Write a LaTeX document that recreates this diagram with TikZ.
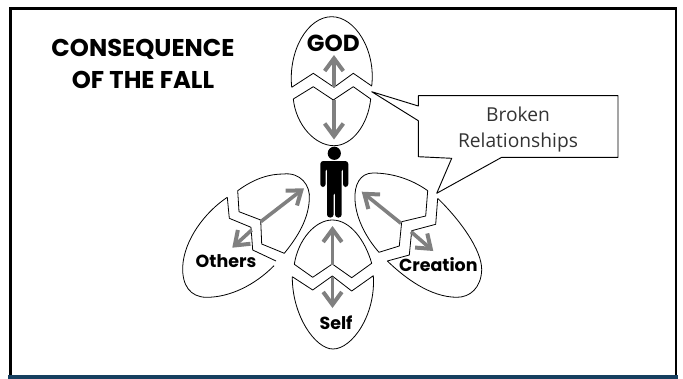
\documentclass[tikz,border=0pt]{standalone}
\usepackage{fontspec}
\setmainfont{Poppins}
\newfontfamily\calloutfont{Open Sans}
\usetikzlibrary{arrows.meta}
\definecolor{footer blue}{HTML}{163F5F}
\definecolor{callout text}{HTML}{333333}

\begin{document}
\begin{tikzpicture}[x=0.75pt,y=-0.75pt]
    \tikzset{
      frame line/.style = { black, line width = 2.1pt },
      egg/.style = { black, line width = 0.6pt, line join = round },
      link/.style = { gray, line width = 2.7pt,
          -{Straight Barb[length=9.5pt,width=14pt,line width=3pt]} },
      label/.style = { font = \bfseries\fontsize{13.1pt}{15pt}\selectfont, inner sep = 0pt },
      title/.style = { font = \fontsize{18.2pt}{24pt}\selectfont\bfseries, align = center, inner sep = 0pt },
    }
    \useasboundingbox (0,0) rectangle (683,379);

    % frame and footer
    \draw[frame line] (10.5,377) -- (10.5,8.5) -- (676,8.5) -- (676,377);
    \fill[footer blue] (8,375) rectangle (678,379);

    \node[title] (heading) at (143,64) {CONSEQUENCE\\OF THE FALL};

    % god
    \draw[egg] (291.7,87.3) -- (313.3,73.3) -- (334,87.3) -- (353.3,73.3) -- (371.7,86)
        .. controls (376,50) and (355,16.7) .. (331.7,16.7)
        .. controls (308,16.7) and (288,50) .. (291.7,87.3);
    \draw[egg] (293.3,99) -- (313.3,86.7) -- (333.3,100) -- (353.3,86.7) -- (370.7,99)
        .. controls (368,125) and (352,145.7) .. (334,145.7)
        .. controls (315,145.7) and (296,125) .. (293.3,99);

    % self
    \draw[egg] (294.3,264.3) -- (312.7,277.3) -- (332.3,264) -- (351.7,277.7) -- (371.7,263.3)
        .. controls (365,240) and (350,220) .. (332.3,220)
        .. controls (315,220) and (298,240) .. (294.3,264.3);
    \draw[egg] (292.3,276.7) -- (312.7,290) -- (332.3,276) -- (351.7,291) -- (373.3,275.7)
        .. controls (376,315) and (352,349) .. (333,349)
        .. controls (315,349) and (292,315) .. (292.3,276.7);

    % others
    \draw[egg] (237.7,190.7) -- (239,211.7) -- (260.7,220) -- (261.7,244) -- (284.3,253.3)
        .. controls (295,240) and (308,222) .. (309.3,200)
        .. controls (311,185) and (300,172) .. (283.3,174)
        .. controls (270,174) and (255,178) .. (237.7,190.7);
    \draw[egg] (227.3,197.3) -- (229.3,218.3) -- (251,227.3) -- (252.7,250) -- (276,261);
    \draw[egg] (274,265.7) .. controls (255,285) and (230,297.3) .. (206.7,297.3)
        .. controls (190,297.3) and (182,285) .. (182.7,266.7)
        .. controls (184,240) and (205,212) .. (227.3,197.3);

    % creation
    \draw[egg] (427.7,190.7) -- (425.7,216) -- (401.7,221.7) -- (399.3,246) -- (379,252.3)
        .. controls (368,240) and (356,220) .. (355,200)
        .. controls (354,185) and (360,173) .. (373,173)
        .. controls (390,173) and (410,178) .. (427.7,190.7);
    \draw[egg] (437.7,198.3) -- (435.7,224.3) -- (411.7,230.7) -- (409.3,255) -- (387.3,261)
        .. controls (405,278) and (430,297) .. (456.7,297.3)
        .. controls (470,297.3) and (481,288) .. (481.7,270)
        .. controls (482,250) and (460,220) .. (437.7,198.3);

    % arrows
    \coordinate (god crack upper) at (334,87);
    \coordinate (god crack lower) at (334,100);
    \coordinate (god tip) at (334,55);
    \coordinate (man tip) at (334,139.5);
    \coordinate (self crack upper) at (332.5,265);
    \coordinate (self crack lower) at (332.5,277);
    \coordinate (man base) at (332.5,226);
    \coordinate (self tip) at (332.5,308);
    \coordinate (others crack upper) at (260.7,221.7);
    \coordinate (others crack lower) at (251.7,230);
    \coordinate (others man) at (304,188.3);
    \coordinate (others tip) at (232.3,247.7);
    \coordinate (creation crack upper) at (401,223.3);
    \coordinate (creation crack lower) at (411,231.7);
    \coordinate (creation man) at (361.7,191.7);
    \coordinate (creation tip) at (433.3,251);
    \foreach \from/\to in {god crack upper/god tip, god crack lower/man tip,
        self crack upper/man base, self crack lower/self tip,
        others crack upper/others man, others crack lower/others tip,
        creation crack upper/creation man, creation crack lower/creation tip}
        \draw[link] (\from) -- (\to);

    % person
    \fill (334.3,153.3) circle (6.6);
    \fill[rounded corners=2.2pt] (320.3,187) -- (320.3,161) -- (348.3,161) -- (348.3,187)
        -- (343,187) -- (343,168) -- (341.7,168) -- (341.7,217.5) -- (335,217.5) -- (335,192)
        -- (333.6,192) -- (333.6,217.5) -- (327,217.5) -- (327,168) -- (325.6,168)
        -- (325.6,187) -- cycle;

    % labels
    \node[label, font=\bfseries\fontsize{17.4pt}{18pt}\selectfont] (god) at (333.3,43) {GOD};
    \node[label] (others) at (226,261.5) {Others};
    \node[label] (self) at (336,323) {Self};
    \node[label] (creation) at (438.3,264.3) {Creation};

    % callout
    \draw[egg, line width=0.7pt] (418.3,95.7) -- (618,95.7) -- (618,157.3) -- (501.7,157.3)
        -- (436.7,193.3) -- (451.7,158.3) -- (418.3,156.7) -- (418.3,120.7)
        -- (371.7,91.7) -- (418.3,106) -- cycle;
    \node[callout text, font=\calloutfont\fontsize{14.4pt}{19.5pt}\selectfont, align=center, inner sep=0pt]
        (broken) at (518,130) {Broken\\Relationships};
\end{tikzpicture}
\end{document}
